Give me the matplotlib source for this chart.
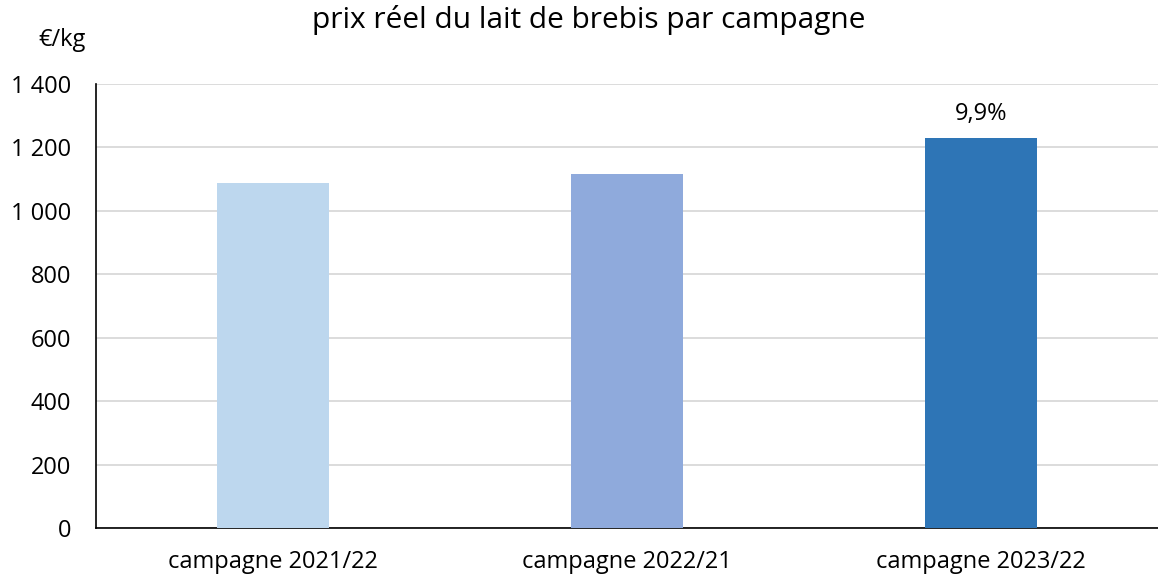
import matplotlib.pyplot as plt
from matplotlib.ticker import FuncFormatter

# prix réel du lait de brebis, €/kg
campagnes = ['campagne 2021/22', 'campagne 2022/21', 'campagne 2023/22']
prix = [1088, 1116, 1230]
couleurs = ['#BDD7EE', '#8FAADC', '#2E75B6']
etiquettes = ['', '', '9,9%']

plt.rcParams['font.family'] = ['Open Sans', 'DejaVu Sans']

fig = plt.figure(figsize=(11.58, 5.8), dpi=100)
fig.patch.set_facecolor('white')
ax = fig.add_axes([96 / 1158, 1 - 528 / 580, 1 - 96 / 1158, (528 - 84) / 580])

x = range(len(campagnes))
bars = ax.bar(x, prix, width=0.316, color=couleurs, zorder=3)
for b, lab in zip(bars, etiquettes):
    if lab:
        ax.text(b.get_x() + b.get_width() / 2, b.get_height() + 38, lab,
                ha='center', va='bottom', fontsize=17)

ax.set_xlim(-0.5, len(campagnes) - 0.5)
ax.set_ylim(0, 1400)
ax.set_yticks(range(0, 1401, 200))
ax.yaxis.set_major_formatter(FuncFormatter(lambda v, p: f'{int(v):,}'.replace(',', ' ')))
ax.set_xticks(list(x))
ax.set_xticklabels(campagnes)
ax.tick_params(axis='both', length=0, labelsize=17)
ax.tick_params(axis='x', pad=16)
ax.tick_params(axis='y', pad=18)
ax.grid(axis='y', color='#d9d9d9', linewidth=1.3, zorder=0)

for s in ['top', 'right']:
    ax.spines[s].set_visible(False)
ax.spines['left'].set_color('black')
ax.spines['bottom'].set_color('black')
ax.spines['left'].set_linewidth(1.2)
ax.spines['bottom'].set_linewidth(1.2)

fig.text(589 / 1158, 1 - 20 / 580, 'prix réel du lait de brebis par campagne',
         ha='center', va='center', fontsize=21.5)
fig.text(62 / 1158, 1 - 40 / 580, '€/kg', ha='center', va='center', fontsize=17)

fig.savefig('out.png', dpi=100)
